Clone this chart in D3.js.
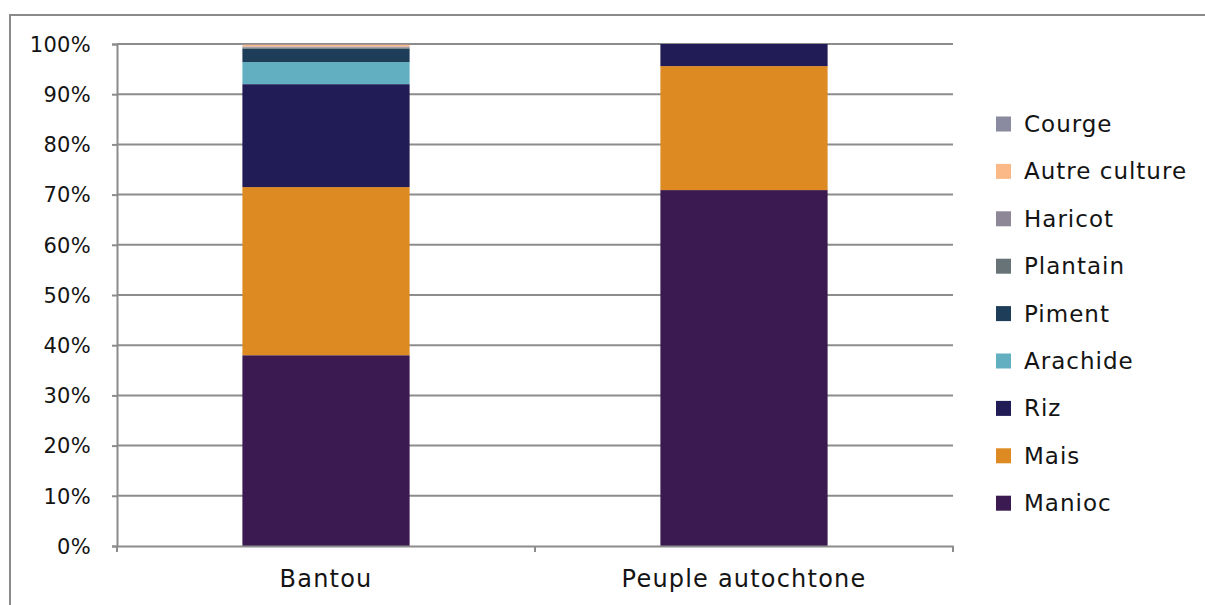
<!DOCTYPE html>
<html>
<head>
<meta charset="utf-8">
<script src="https://cdn.jsdelivr.net/npm/d3@7"></script>
<style>
  html, body { margin: 0; padding: 0; background: #fff; }
  svg { display: block; }
  text { font-family: "DejaVu Sans", sans-serif; fill: #141414; }
</style>
</head>
<body>
<svg id="chart" width="1205" height="605"></svg>
<script>
// Crop shares (%) by population group
const groups = ["Bantou", "Peuple autochtone"];
const crops = ["Manioc", "Mais", "Riz", "Arachide", "Piment", "Plantain", "Haricot", "Autre culture", "Courge"];
const manioc = [38.0, 70.9];
const mais = [33.5, 24.7];
const riz = [20.5, 4.4];
const arachide = [4.4, 0];
const piment = [2.7, 0];
const plantain = [0.2, 0];
const haricot = [0.2, 0];
const autreCulture = [0.4, 0];
const courge = [0.1, 0];
const yTicks = [0, 10, 20, 30, 40, 50, 60, 70, 80, 90, 100];
const colors = ["#3a1a50", "#dd8a22", "#221c56", "#62afc2", "#1e3d58", "#687377", "#8e8798", "#fbb987", "#8a8aa0"];

const seriesValues = [manioc, mais, riz, arachide, piment, plantain, haricot, autreCulture, courge];
const rows = groups.map((g, i) => {
  const r = { group: g };
  crops.forEach((c, k) => { r[c] = seriesValues[k][i]; });
  return r;
});

const FONT = "'DejaVu Sans', sans-serif";
const svg = d3.select("#chart");

// outer frame
svg.append("rect")
  .attr("x", 10).attr("y", 15).attr("width", 1220).attr("height", 620)
  .attr("fill", "none").attr("stroke", "#8a8a8a").attr("stroke-width", 2);

const plotLeft = 117, plotRight = 953, plotTop = 44, plotBottom = 546;
const x = d3.scaleBand().domain(groups).range([plotLeft, plotRight]).paddingInner(0.6).paddingOuter(0.3);
const y = d3.scaleLinear().domain([0, 100]).range([plotBottom, plotTop]);
const color = d3.scaleOrdinal().domain(crops).range(colors);

// gridlines
svg.append("g").selectAll("line").data(yTicks.filter(t => t > 0)).join("line")
  .attr("x1", plotLeft).attr("x2", plotRight)
  .attr("y1", d => y(d)).attr("y2", d => y(d))
  .attr("stroke", "#8c8c8c").attr("stroke-width", 2);

// stacked bars
const stack = d3.stack().keys(crops);
const layers = stack(rows);
svg.append("g").selectAll("g").data(layers).join("g")
  .attr("fill", d => color(d.key))
  .selectAll("rect").data(d => d).join("rect")
  .attr("x", d => x(d.data.group))
  .attr("width", x.bandwidth())
  .attr("y", d => y(d[1]))
  .attr("height", d => Math.max(0, y(d[0]) - y(d[1])));

// y axis
const yAxis = svg.append("g").attr("transform", `translate(${plotLeft},0)`)
  .call(d3.axisLeft(y).tickValues(yTicks).tickFormat(d => d + "%").tickSize(5).tickPadding(21));
yAxis.attr("font-family", null).attr("font-size", null);
yAxis.select(".domain").attr("stroke", "#8c8c8c").attr("stroke-width", 2);
yAxis.selectAll(".tick line").attr("stroke", "#8c8c8c").attr("stroke-width", 2);
yAxis.selectAll("text").attr("dy", "0.35em")
  .style("font-family", FONT).style("font-size", "21px").style("letter-spacing", "0.3px")
  .attr("fill", "#141414");

// x axis
const xAxis = svg.append("g").attr("transform", `translate(0,${plotBottom})`)
  .call(d3.axisBottom(x).tickSize(0).tickPadding(24));
xAxis.attr("font-family", null).attr("font-size", null);
xAxis.select(".domain").attr("stroke", "#8c8c8c").attr("stroke-width", 2);
xAxis.selectAll("text")
  .style("font-family", FONT).style("font-size", "24px").style("letter-spacing", "1.2px")
  .attr("fill", "#141414");
// category boundary ticks
const bounds = [plotLeft, (plotLeft + plotRight) / 2, plotRight];
svg.append("g").selectAll("line").data(bounds).join("line")
  .attr("x1", d => d).attr("x2", d => d)
  .attr("y1", plotBottom).attr("y2", plotBottom + 6)
  .attr("stroke", "#8c8c8c").attr("stroke-width", 2);

// legend (top item is last series)
const legendItems = crops.slice().reverse();
const legend = svg.append("g").attr("transform", "translate(996,124)");
const li = legend.selectAll("g").data(legendItems).join("g")
  .attr("transform", (d, i) => `translate(0,${i * 47.4})`);
li.append("rect").attr("x", 0).attr("y", -7.5).attr("width", 15).attr("height", 15)
  .attr("fill", d => color(d));
li.append("text").attr("x", 28).attr("dy", "0.35em")
  .style("font-family", FONT).style("font-size", "23px").style("letter-spacing", "1px")
  .text(d => d);
</script>
</body>
</html>
